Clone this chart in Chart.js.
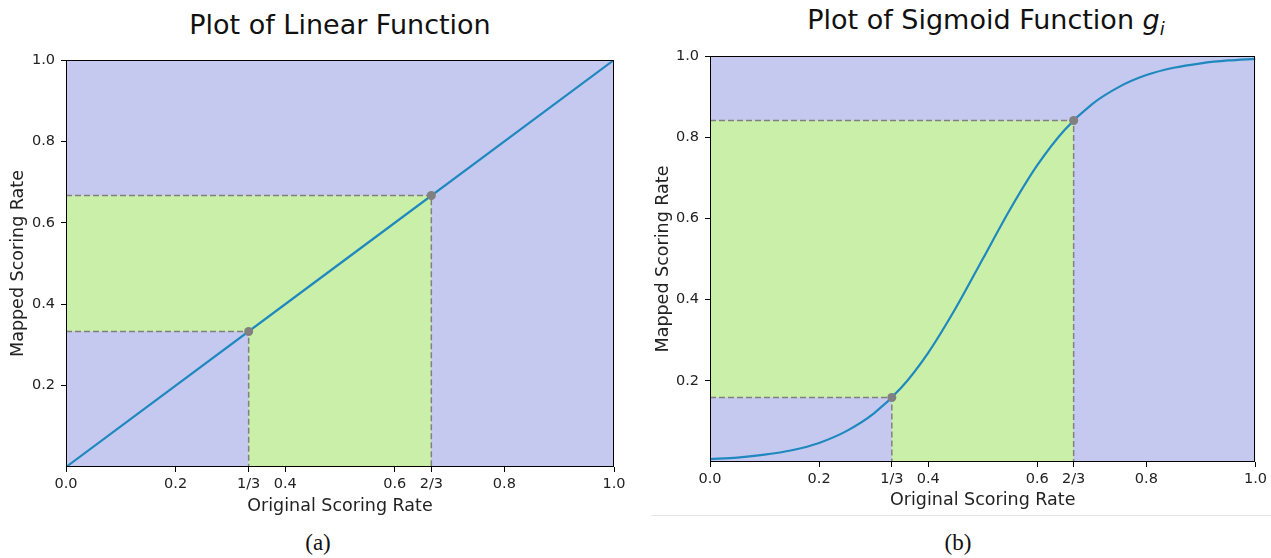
<!DOCTYPE html>
<html>
<head>
<meta charset="utf-8">
<script src="https://cdn.jsdelivr.net/npm/chart.js@4.4.1/dist/chart.umd.min.js"></script>
<style>
  body { margin: 0; width: 1271px; height: 558px; background: #fff; position: relative; overflow: hidden; font-family: "DejaVu Sans", sans-serif; }
  .box { position: absolute; top: 0; }
  .title { position: absolute; font-size: 27px; color: #111; white-space: nowrap; transform: translateX(-50%); }
  .cap { position: absolute; font-family: "Liberation Serif", serif; font-size: 23px; color: #111; transform: translateX(-50%); }
  #sep { position: absolute; left: 651px; top: 515px; width: 620px; height: 1px; background: #e6e6e6; }
</style>
</head>
<body>
<div class="title" style="left:340px; top:9px;">Plot of Linear Function</div>
<div class="title" style="left:986px; top:4px;">Plot of Sigmoid Function <i>g<sub style="font-size:18px">i</sub></i></div>
<div class="box" style="left:0"><canvas id="linChart" width="640" height="520"></canvas></div>
<div class="box" style="left:640px"><canvas id="sigChart" width="631" height="514"></canvas></div>
<div id="sep"></div>
<div class="cap" style="left:318px; top:530px;">(a)</div>
<div class="cap" style="left:958px; top:530px;">(b)</div>

<script>
// 軸の目盛り
const xTickValues = [0, 0.2, 1 / 3, 0.4, 0.6, 2 / 3, 0.8, 1.0];
const xTickLabels = ["0.0", "0.2", "1/3", "0.4", "0.6", "2/3", "0.8", "1.0"];
const yTickValues = [0.2, 0.4, 0.6, 0.8, 1.0];
const yTickLabels = ["0.2", "0.4", "0.6", "0.8", "1.0"];

// 線形関数
const linearX = [0, 1];
const linearY = [0, 1];
const linearMarkX = [1 / 3, 2 / 3];
const linearMarkY = [0.333, 0.667];

// シグモイド関数
const sigmoidX = [0, 0.05, 0.1, 0.15, 0.2, 0.25, 0.3, 0.35, 0.4, 0.45, 0.5, 0.55, 0.6, 0.65, 0.7, 0.75, 0.8, 0.85, 0.9, 0.95, 1.0];
const sigmoidY = [0.007, 0.011, 0.018, 0.029, 0.047, 0.076, 0.119, 0.182, 0.269, 0.378, 0.5, 0.622, 0.731, 0.818, 0.881, 0.924, 0.953, 0.971, 0.982, 0.989, 0.993];
const sigmoidMarkX = [1 / 3, 2 / 3];
const sigmoidMarkY = [0.159, 0.841];

const purple = "#c6c9ef";
const green = "#c9efa8";
const lineColor = "#1f88bf";
const gray = "#808080";

// 枠線
const framePlugin = {
  id: "frame",
  afterDatasetsDraw(chart) {
    const a = chart.chartArea;
    const ctx = chart.ctx;
    ctx.save();
    ctx.strokeStyle = "#000";
    ctx.lineWidth = 1;
    ctx.strokeRect(Math.round(a.left) + 0.5, Math.round(a.top) + 0.5, Math.round(a.right - a.left) - 1, Math.round(a.bottom - a.top) - 1);
    ctx.restore();
  }
};

function pts(xs, ys) {
  return xs.map((x, i) => ({ x: x, y: ys[i] }));
}

function drawChart(id, curveX, curveY, markX, markY, g) {
  const ctx = document.getElementById(id).getContext("2d");
  const dash = { borderColor: gray, borderWidth: 1.5, borderDash: [6, 3], pointRadius: 0, fill: false, order: 2 };
  new Chart(ctx, {
    type: "line",
    data: {
      datasets: [
        { data: pts(markX, markY), showLine: false, pointRadius: 4.5, pointBackgroundColor: gray, pointBorderWidth: 0, order: 0 },
        { data: pts(curveX, curveY), borderColor: lineColor, borderWidth: 2.2, pointRadius: 0, tension: 0.3, fill: false, order: 1 },
        Object.assign({ data: [{ x: 0, y: markY[0] }, { x: markX[0], y: markY[0] }, { x: markX[0], y: 0 }] }, dash),
        Object.assign({ data: [{ x: 0, y: markY[1] }, { x: markX[1], y: markY[1] }, { x: markX[1], y: 0 }] }, dash),
        { data: [{ x: 0, y: markY[0] }, { x: markX[0], y: markY[0] }], borderWidth: 0, pointRadius: 0, fill: "origin", backgroundColor: purple, order: 3 },
        { data: [{ x: 0, y: markY[1] }, { x: markX[1], y: markY[1] }], borderWidth: 0, pointRadius: 0, fill: "origin", backgroundColor: green, order: 4 },
        { data: [{ x: 0, y: 1 }, { x: 1, y: 1 }], borderWidth: 0, pointRadius: 0, fill: "origin", backgroundColor: purple, order: 5 }
      ]
    },
    options: {
      responsive: false,
      animation: false,
      devicePixelRatio: 1,
      layout: { padding: { top: g.top, left: 0, right: g.right, bottom: 2 } },
      plugins: { legend: { display: false }, tooltip: { enabled: false } },
      scales: {
        x: {
          type: "linear",
          min: 0,
          max: 1,
          afterBuildTicks: s => { s.ticks = xTickValues.map(v => ({ value: v })); },
          afterFit: s => { s.height = g.xh; },
          ticks: { autoSkip: false, maxRotation: 0, padding: 4, color: "#222", font: { family: "DejaVu Sans", size: 14.5 }, callback: (v, i) => xTickLabels[i] },
          grid: { drawOnChartArea: false, drawTicks: true, tickLength: 5, tickColor: "#000" },
          border: { display: false },
          title: { display: true, text: "Original Scoring Rate", color: "#222", font: { family: "DejaVu Sans", size: 17.5 }, padding: { top: 0, bottom: g.xpb } }
        },
        y: {
          type: "linear",
          min: 0,
          max: 1,
          afterBuildTicks: s => { s.ticks = yTickValues.map(v => ({ value: v })); },
          afterFit: s => { s.width = g.yw; },
          ticks: { autoSkip: false, padding: 6, color: "#222", font: { family: "DejaVu Sans", size: 14.5 }, callback: (v, i) => yTickLabels[i] },
          grid: { drawOnChartArea: false, drawTicks: true, tickLength: 5, tickColor: "#000" },
          border: { display: false },
          title: { display: true, text: "Mapped Scoring Rate", color: "#222", font: { family: "DejaVu Sans", size: 17.5 }, padding: { top: g.ypt, bottom: 0 } }
        }
      }
    },
    plugins: [framePlugin]
  });
}

drawChart("linChart", linearX, linearY, linearMarkX, linearMarkY, { top: 60, right: 26, xh: 51, xpb: 1, yw: 66, ypt: 8 });
drawChart("sigChart", sigmoidX, sigmoidY, sigmoidMarkX, sigmoidMarkY, { top: 56, right: 14, xh: 50, xpb: 1, yw: 70, ypt: 13 });
</script>
</body>
</html>
